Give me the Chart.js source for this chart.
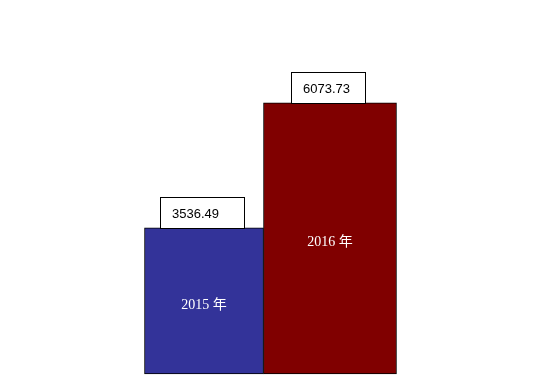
<!DOCTYPE html>
<html>
<head>
<meta charset="utf-8">
<script src="https://cdn.jsdelivr.net/npm/chart.js@4"></script>
<style>
  html, body { margin: 0; padding: 0; background: #fff; }
  canvas { display: block; }
</style>
</head>
<body>
<canvas id="chart" width="552" height="377"></canvas>
<script>
// data
const years = ['2015 年', '2016 年'];
const values = [3536.49, 6073.73];
const barColors = ['#333399', '#800000'];
const barWidths = [119, 133];
const labelBoxWidths = [84, 74];
const yMin = 570, yMax = 8160;

const datasets = years.map((y, i) => ({
  label: y,
  data: values.map((v, j) => j === i ? v : null),
  backgroundColor: barColors[i],
  borderColor: '#000',
  borderWidth: 1,
  borderSkipped: false,
  barThickness: barWidths[i],
  grouped: false,
  base: yMin,
  clip: false
}));

const labelPlugin = {
  id: 'barLabels',
  afterDatasetsDraw(chart) {
    const ctx = chart.ctx;
    ctx.save();
    chart.data.datasets.forEach((ds, i) => {
      const meta = chart.getDatasetMeta(i);
      meta.data.forEach((bar, j) => {
        if (ds.data[j] === null) return;
        // value box above the bar
        const bw = labelBoxWidths[i];
        const bh = 31;
        const bx = Math.round(bar.x - 1.75 - bw / 2) + 0.5;
        const by = Math.round(bar.y - bh) + 0.5;
        ctx.fillStyle = '#fff';
        ctx.strokeStyle = '#000';
        ctx.lineWidth = 1;
        ctx.fillRect(bx, by, bw, bh);
        ctx.strokeRect(bx, by, bw, bh);
        ctx.fillStyle = '#000';
        ctx.font = '13px "Liberation Sans", sans-serif';
        ctx.textAlign = 'left';
        ctx.textBaseline = 'middle';
        ctx.fillText(ds.data[j].toFixed(2), bx + 11.5, by + bh / 2 + 1);
        // year inside the bar
        ctx.fillStyle = '#fff';
        ctx.font = '14px "Liberation Serif", "Noto Sans CJK SC", serif';
        ctx.textAlign = 'center';
        ctx.fillText(ds.label, bar.x, (bar.y + bar.base) / 2 + 4);
      });
    });
    ctx.restore();
  }
};

new Chart(document.getElementById('chart'), {
  type: 'bar',
  data: { labels: years, datasets: datasets },
  options: {
    responsive: false,
    animation: false,
    layout: { padding: { left: 141, right: 159, top: 0, bottom: 3 } },
    plugins: { legend: { display: false }, tooltip: { enabled: false } },
    scales: {
      x: { display: false, offset: true },
      y: { display: false, min: yMin, max: yMax }
    }
  },
  plugins: [labelPlugin]
});
</script>
</body>
</html>
